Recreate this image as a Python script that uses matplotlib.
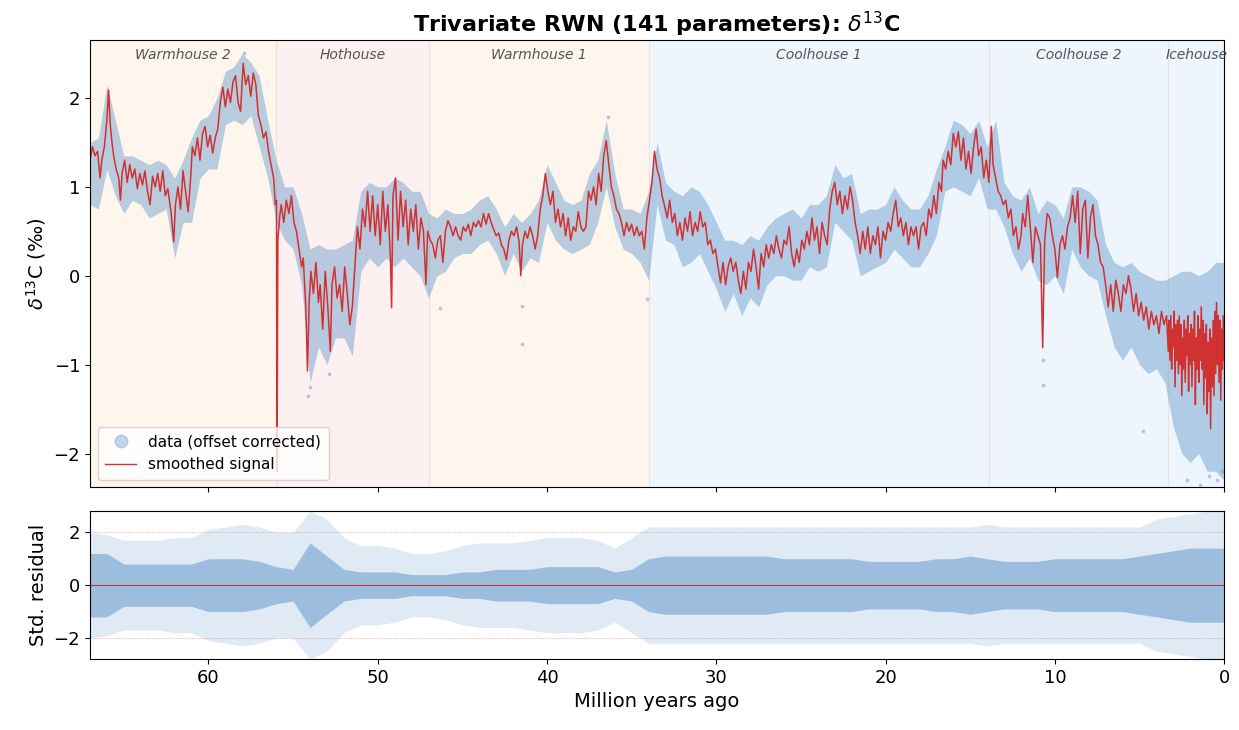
import numpy as np
import matplotlib
matplotlib.use("Agg")
import matplotlib.pyplot as plt
from matplotlib.lines import Line2D

# smoothed d13C signal (age in Myr, value in permil)
sig_age = [67.0, 66.85, 66.7, 66.55, 66.4, 66.3, 66.15, 66.0, 65.9, 65.8, 65.7, 65.6, 65.45, 65.3, 65.2, 65.1,
           64.95, 64.8, 64.65, 64.5, 64.35, 64.2, 64.05, 63.9, 63.75, 63.6, 63.45, 63.3, 63.15, 63.0, 62.85,
           62.7, 62.55, 62.4, 62.2, 62.05, 61.95, 61.8, 61.65, 61.5, 61.35, 61.2, 61.05, 60.95, 60.8, 60.65,
           60.5, 60.35, 60.2, 60.05, 59.9, 59.75, 59.6, 59.45, 59.3, 59.15, 59.0, 58.85, 58.7, 58.55, 58.4,
           58.25, 58.1, 57.95, 57.8, 57.65, 57.5, 57.35, 57.2, 57.05, 56.9, 56.75, 56.6, 56.45, 56.3, 56.15,
           56.05, 55.98, 55.95, 55.9, 55.8, 55.7, 55.55, 55.4, 55.25, 55.1, 54.95, 54.8, 54.65, 54.5, 54.4,
           54.25, 54.15, 54.05, 53.95, 53.8, 53.65, 53.5, 53.4, 53.25, 53.1, 52.95, 52.8, 52.7, 52.55, 52.4,
           52.25, 52.1, 51.95, 51.8, 51.65, 51.5, 51.35, 51.2, 51.05, 50.9, 50.75, 50.6, 50.45, 50.3, 50.15,
           50.0, 49.85, 49.7, 49.55, 49.4, 49.25, 49.18, 49.1, 48.95, 48.8, 48.65, 48.5, 48.35, 48.2, 48.05,
           47.9, 47.75, 47.6, 47.45, 47.3, 47.15, 47.05, 46.9, 46.75, 46.6, 46.45, 46.3, 46.15, 46.0, 45.85,
           45.7, 45.55, 45.4, 45.25, 45.1, 44.95, 44.8, 44.65, 44.5, 44.35, 44.2, 44.05, 43.9, 43.75, 43.6,
           43.45, 43.3, 43.15, 43.0, 42.85, 42.7, 42.55, 42.4, 42.25, 42.1, 41.95, 41.8, 41.65, 41.55, 41.45,
           41.3, 41.15, 41.0, 40.85, 40.7, 40.55, 40.4, 40.25, 40.1, 39.95, 39.8, 39.65, 39.5, 39.35, 39.2,
           39.05, 38.9, 38.75, 38.6, 38.45, 38.3, 38.15, 38.0, 37.85, 37.7, 37.55, 37.4, 37.25, 37.1, 36.95,
           36.8, 36.65, 36.5, 36.35, 36.2, 36.05, 35.9, 35.75, 35.6, 35.45, 35.3, 35.15, 35.0, 34.85, 34.7,
           34.55, 34.4, 34.25, 34.1, 33.95, 33.8, 33.65, 33.5, 33.35, 33.2, 33.05, 32.9, 32.75, 32.6, 32.45,
           32.3, 32.15, 32.0, 31.85, 31.7, 31.55, 31.4, 31.25, 31.1, 30.95, 30.8, 30.65, 30.5, 30.35, 30.2,
           30.05, 29.9, 29.75, 29.6, 29.45, 29.3, 29.15, 29.0, 28.85, 28.7, 28.55, 28.4, 28.25, 28.1, 27.95,
           27.8, 27.65, 27.5, 27.35, 27.2, 27.05, 26.9, 26.75, 26.6, 26.45, 26.3, 26.15, 26.0, 25.85, 25.7,
           25.55, 25.4, 25.25, 25.1, 24.95, 24.8, 24.65, 24.5, 24.35, 24.2, 24.05, 23.9, 23.75, 23.6, 23.45,
           23.3, 23.15, 23.0, 22.85, 22.7, 22.55, 22.4, 22.25, 22.1, 21.95, 21.8, 21.65, 21.5, 21.35, 21.2,
           21.05, 20.9, 20.75, 20.6, 20.45, 20.3, 20.15, 20.0, 19.85, 19.7, 19.55, 19.4, 19.25, 19.1, 18.95,
           18.8, 18.65, 18.5, 18.35, 18.2, 18.05, 17.9, 17.75, 17.6, 17.45, 17.3, 17.15, 17.0, 16.85, 16.7,
           16.6, 16.45, 16.3, 16.15, 16.0, 15.85, 15.7, 15.55, 15.4, 15.25, 15.1, 14.95, 14.8, 14.65, 14.5,
           14.35, 14.2, 14.05, 13.9, 13.75, 13.65, 13.5, 13.35, 13.2, 13.05, 12.9, 12.75, 12.6, 12.45, 12.3,
           12.15, 12.0, 11.9, 11.75, 11.6, 11.45, 11.3, 11.15, 11.0, 10.85, 10.72, 10.6, 10.45, 10.3, 10.15,
           10.0, 9.85, 9.7, 9.55, 9.4, 9.25, 9.1, 8.95, 8.8, 8.65, 8.5, 8.35, 8.2, 8.05, 7.9,
           7.75, 7.6, 7.45, 7.3, 7.15, 7.0, 6.85, 6.7, 6.55, 6.4, 6.25, 6.1, 5.95, 5.8, 5.65,
           5.5, 5.35, 5.2, 5.05, 4.9, 4.75, 4.6, 4.45, 4.3, 4.15, 4.0, 3.85, 3.7, 3.55, 3.4]
sig_val = [1.30, 1.45, 1.35, 1.40, 1.10, 1.30, 1.45, 1.75, 2.09, 1.70, 1.50, 1.35, 1.20, 1.10, 0.85, 1.15,
           1.30, 1.05, 1.25, 1.10, 1.20, 0.98, 1.15, 1.02, 1.18, 0.95, 0.80, 1.12, 1.00, 1.15, 0.95,
           1.18, 0.90, 0.98, 0.70, 0.38, 0.80, 1.00, 0.75, 1.18, 0.95, 0.72, 1.10, 1.45, 1.35, 1.55,
           1.30, 1.60, 1.68, 1.45, 1.58, 1.38, 1.55, 1.65, 1.95, 2.12, 1.90, 2.10, 1.95, 2.18, 2.25,
           1.95, 1.85, 2.39, 2.15, 2.25, 2.02, 2.28, 2.15, 1.80, 1.70, 1.55, 1.62, 1.40, 1.25, 1.10,
           0.80, 0.85, -2.20, 0.40, 0.65, 0.80, 0.60, 0.85, 0.70, 0.90, 0.60, 0.50, 0.30, 0.10, 0.20,
           -0.35, -1.07, -0.30, 0.05, -0.20, 0.15, -0.30, -0.10, -0.60, 0.05, -0.35, -0.85, -0.10, 0.10, -0.25,
           -0.10, -0.40, 0.10, -0.20, -0.55, -0.35, 0.10, 0.55, 0.30, 0.75, 0.55, 0.95, 0.50, 0.90, 0.45,
           0.80, 0.35, 0.95, 0.50, 0.80, 0.20, -0.36, 0.90, 1.10, 0.40, 0.95, 0.55, 0.85, 0.35, 0.75,
           0.50, 0.80, 0.30, 0.65, 0.50, -0.10, 0.50, 0.40, 0.35, 0.20, 0.40, 0.45, 0.15, 0.50, 0.62,
           0.55, 0.45, 0.55, 0.45, 0.40, 0.55, 0.50, 0.58, 0.45, 0.60, 0.55, 0.62, 0.55, 0.70, 0.58,
           0.70, 0.60, 0.52, 0.45, 0.48, 0.35, 0.30, 0.18, 0.40, 0.50, 0.45, 0.55, 0.38, 0.00, 0.35,
           0.50, 0.42, 0.55, 0.45, 0.30, 0.45, 0.75, 0.90, 1.15, 0.95, 0.80, 0.95, 0.60, 0.75, 0.55,
           0.70, 0.45, 0.65, 0.40, 0.55, 0.50, 0.72, 0.55, 0.50, 0.55, 0.95, 0.85, 1.00, 0.80, 1.15,
           0.95, 1.35, 1.52, 1.25, 1.00, 0.90, 0.75, 0.70, 0.60, 0.45, 0.60, 0.50, 0.58, 0.45, 0.55,
           0.45, 0.50, 0.30, 0.65, 0.85, 1.05, 1.40, 1.20, 1.10, 0.90, 0.78, 0.65, 0.85, 0.60, 0.70,
           0.45, 0.60, 0.40, 0.65, 0.50, 0.72, 0.45, 0.60, 0.50, 0.72, 0.55, 0.60, 0.35, 0.40, 0.25,
           0.30, 0.10, -0.08, 0.15, -0.10, 0.10, 0.20, 0.05, 0.15, -0.05, -0.20, 0.05, -0.15, 0.15, 0.05,
           0.30, 0.10, -0.15, 0.25, 0.10, 0.35, 0.20, 0.35, 0.25, 0.45, 0.30, 0.20, 0.40, 0.35, 0.55,
           0.25, 0.10, 0.30, 0.15, 0.40, 0.30, 0.50, 0.35, 0.65, 0.40, 0.55, 0.25, 0.60, 0.45, 0.35,
           0.75, 0.95, 1.05, 0.80, 0.95, 0.70, 0.90, 0.75, 1.00, 0.85, 0.60, 0.45, 0.25, 0.50, 0.30,
           0.55, 0.25, 0.45, 0.35, 0.55, 0.20, 0.50, 0.40, 0.60, 0.50, 0.70, 0.85, 0.55, 0.65, 0.45,
           0.60, 0.35, 0.55, 0.45, 0.55, 0.30, 0.55, 0.60, 0.45, 0.75, 0.65, 0.90, 0.70, 1.05, 0.95,
           1.30, 1.20, 1.40, 1.25, 1.60, 1.45, 1.62, 1.30, 1.55, 1.20, 1.40, 1.15, 1.45, 1.65, 1.35,
           1.45, 1.10, 1.30, 1.05, 1.68, 1.25, 1.10, 0.95, 0.90, 0.80, 0.85, 0.65, 0.75, 0.45, 0.55,
           0.30, 0.45, 0.70, 0.55, 0.90, 0.55, 0.15, 0.55, 0.45, 0.35, -0.81, 0.40, 0.70, 0.65, 0.45,
           0.30, -0.02, 0.35, 0.45, 0.30, 0.55, 0.65, 0.90, 0.60, 0.95, 0.25, 0.75, 0.85, 0.20, 0.65,
           0.80, 0.45, 0.35, 0.15, 0.10, -0.10, -0.35, -0.10, -0.40, -0.05, -0.20, -0.40, -0.10, -0.20, 0.00,
           -0.15, -0.40, -0.20, -0.45, -0.30, -0.50, -0.35, -0.60, -0.40, -0.55, -0.45, -0.65, -0.40, -0.55, -0.45]

# the Icehouse stretch is much noisier, read more finely
ice_age = [3.30, 3.25, 3.20, 3.15, 3.10, 3.05, 3.00, 2.95, 2.90, 2.85, 2.80, 2.75, 2.70, 2.65, 2.60, 2.55,
           2.50, 2.45, 2.40, 2.35, 2.30, 2.25, 2.20, 2.15, 2.10, 2.05, 2.00, 1.95, 1.90, 1.85, 1.80, 1.75,
           1.70, 1.65, 1.60, 1.55, 1.50, 1.45, 1.40, 1.35, 1.30, 1.25, 1.20, 1.15, 1.10, 1.05, 1.00, 0.95,
           0.90, 0.85, 0.80, 0.75, 0.70, 0.65, 0.60, 0.55, 0.50, 0.45, 0.40, 0.35, 0.30, 0.25, 0.20, 0.15,
           0.10, 0.05, 0.00]
ice_val = [-0.85, -0.50, -0.95, -0.45, -1.05, -0.60, -0.80, -0.40, -1.25, -0.55, -0.95, -0.50, -1.10, -0.45,
           -1.00, -0.55, -1.35, -0.70, -1.05, -0.50, -1.20, -0.60, -0.90, -0.45, -1.30, -0.65, -1.00, -0.55,
           -1.25, -0.60, -0.95, -0.40, -1.45, -0.70, -1.05, -0.45, -1.20, -0.60, -0.95, -0.35, -1.05, -0.50,
           -1.45, -0.65, -1.15, -0.55, -1.55, -0.75, -1.30, -0.60, -1.72, -0.70, -1.25, -0.50, -1.35, -0.40,
           -1.10, -0.30, -1.00, -0.45, -1.20, -0.50, -1.40, -0.60, -1.05, -0.45, -0.95]

# spread of the data cloud, every 0.5 Myr from 67 to 0
cloud_hi = [1.5, 1.55, 2.15, 1.75, 1.35, 1.35, 1.3, 1.25, 1.3, 1.25, 1.1, 1.3, 1.55, 1.75, 1.8, 2.0, 2.3, 2.35,
            2.5, 2.4, 2.25, 1.75, 1.3, 1.0, 1.0, 0.7, 0.3, 0.35, 0.3, 0.3, 0.35, 0.4, 0.95, 1.05, 1.0, 1.0,
            1.1, 1.05, 0.95, 0.95, 0.7, 0.65, 0.75, 0.7, 0.7, 0.75, 0.85, 0.9, 0.75, 0.55, 0.7, 0.6, 0.7, 0.85,
            1.25, 1.05, 0.85, 0.8, 0.85, 1.15, 1.3, 1.75, 1.15, 0.75, 0.75, 0.7, 0.95, 1.5, 1.05, 0.95, 0.9, 1.0,
            0.95, 0.8, 0.6, 0.4, 0.4, 0.35, 0.45, 0.4, 0.55, 0.65, 0.7, 0.75, 0.65, 0.8, 0.8, 0.9, 1.25, 1.1,
            1.15, 0.7, 0.75, 0.75, 0.8, 1.0, 0.85, 0.75, 0.75, 0.9, 1.2, 1.45, 1.75, 1.7, 1.6, 1.75, 1.45, 1.75,
            1.05, 0.9, 0.85, 1.0, 0.7, 0.85, 0.8, 0.65, 1.0, 1.0, 0.95, 0.85, 0.35, 0.15, 0.1, 0.15, 0.05, 0.0,
            -0.05, -0.05, 0.0, 0.05, 0.05, 0.0, 0.05, 0.15, 0.15]
cloud_lo = [0.8, 0.75, 1.2, 0.9, 0.7, 0.85, 0.8, 0.65, 0.7, 0.75, 0.2, 0.6, 0.6, 1.1, 1.2, 1.2, 1.7, 1.75,
            1.7, 1.8, 1.45, 1.1, 0.6, 0.4, 0.3, -0.1, -1.2, -0.8, -1.0, -0.7, -0.7, -0.9, 0.05, 0.2, 0.1, 0.2,
            0.1, 0.2, 0.1, 0.0, -0.25, 0.0, 0.05, 0.2, 0.25, 0.25, 0.35, 0.4, 0.25, 0.0, 0.25, 0.05, 0.2, 0.15,
            0.6, 0.4, 0.3, 0.25, 0.3, 0.35, 0.6, 1.0, 0.55, 0.3, 0.25, 0.15, -0.05, 0.8, 0.4, 0.35, 0.1, 0.15,
            0.25, 0.05, -0.15, -0.4, -0.2, -0.45, -0.25, -0.35, -0.1, 0.0, 0.0, -0.05, -0.05, 0.1, 0.05, 0.1, 0.6, 0.5,
            0.4, 0.0, 0.05, 0.1, 0.15, 0.3, 0.2, 0.1, 0.1, 0.25, 0.45, 0.95, 1.0, 0.95, 0.9, 1.1, 0.75, 0.75,
            0.55, 0.25, 0.05, 0.2, -0.05, -0.1, 0.0, -0.2, 0.3, 0.1, 0.0, -0.05, -0.45, -0.8, -0.95, -0.8, -1.0, -1.1,
            -1.05, -1.2, -1.7, -2.0, -2.1, -2.0, -2.2, -2.2, -2.3]

# isolated data points well away from the cloud
out_age = [54.1, 54.0, 52.9, 46.3, 41.5, 41.5, 34.1, 36.4, 57.9, 10.7, 10.7, 4.8, 2.2, 1.4, 0.9, 0.4, 0.1]
out_val = [-1.35, -1.25, -1.1, -0.36, -0.77, -0.34, -0.26, 1.78, 2.5, -1.23, -0.95, -1.75, -2.3, -2.35, -2.25, -2.3, -2.2]

# standardized residual spread, every 1 Myr from 67 to 0 (dense core, outer scatter)
res_core = [1.2, 1.2, 0.8, 0.8, 0.8, 0.8, 0.8, 1.0, 1.0, 1.0, 0.9, 0.7, 0.6, 1.6, 1.1, 0.6, 0.5, 0.5,
            0.5, 0.4, 0.4, 0.4, 0.5, 0.5, 0.6, 0.6, 0.6, 0.7, 0.7, 0.7, 0.7, 0.5, 0.6, 1.0, 1.1, 1.1,
            1.1, 1.1, 1.1, 1.1, 1.1, 1.0, 1.0, 1.0, 1.0, 1.0, 0.9, 0.9, 0.9, 0.9, 1.0, 1.0, 1.1, 1.0,
            0.9, 0.9, 0.9, 1.0, 1.0, 1.0, 1.0, 1.0, 1.1, 1.2, 1.3, 1.4, 1.4, 1.4]
res_outer = [2.0, 1.9, 1.7, 1.7, 1.7, 1.8, 1.8, 2.1, 2.2, 2.3, 2.2, 2.0, 2.0, 2.8, 2.5, 1.8, 1.5, 1.5,
             1.4, 1.2, 1.2, 1.3, 1.5, 1.6, 1.6, 1.6, 1.7, 1.8, 1.8, 1.8, 1.7, 1.4, 1.8, 2.2, 2.2, 2.2,
             2.2, 2.2, 2.2, 2.2, 2.2, 2.2, 2.2, 2.2, 2.2, 2.2, 2.2, 2.2, 2.2, 2.2, 2.2, 2.2, 2.2, 2.3,
             2.2, 2.2, 2.2, 2.2, 2.2, 2.2, 2.2, 2.2, 2.2, 2.5, 2.6, 2.7, 2.8, 2.8]

# climate states (start, end, name, colour)
states = [(67.0, 56.0, "Warmhouse 2", "#fef6ec"),
          (56.0, 47.0, "Hothouse", "#fcf0f0"),
          (47.0, 34.0, "Warmhouse 1", "#fef6ec"),
          (34.0, 13.9, "Coolhouse 1", "#eef5fc"),
          (13.9, 3.3, "Coolhouse 2", "#eef5fc"),
          (3.3, 0.0, "Icehouse", "#eef5fc")]

blue = "#6699cc"
red = "#d03232"

cloud_age = np.linspace(67, 0, len(cloud_hi))
res_age = np.linspace(67, 0, len(res_core))
res_core = np.array(res_core)
res_outer = np.array(res_outer)

fig = plt.figure(figsize=(12.39, 7.3), dpi=100)
gs = fig.add_gridspec(2, 1, height_ratios=[447, 148], left=0.0726, right=0.988,
                      top=0.945, bottom=0.097, hspace=0.08)
ax = fig.add_subplot(gs[0])
axr = fig.add_subplot(gs[1], sharex=ax)

for start, end, name, col in states:
    ax.axvspan(end, start, color=col, lw=0, zorder=0)
    ax.axvline(end, color="#e6e2dc", lw=0.8, zorder=0.5)
    ax.text((start + end) / 2, 0.966, name, transform=ax.get_xaxis_transform(),
            ha="center", va="center", fontsize=10, style="italic", color="#555555")

ax.fill_between(cloud_age, cloud_lo, cloud_hi, color=blue, alpha=0.45, lw=0, zorder=1)
ax.scatter(out_age, out_val, s=7, color=blue, alpha=0.5, lw=0, zorder=1)
ax.plot(sig_age + ice_age, sig_val + ice_val, color=red, lw=1.1, zorder=2)

ax.set_xlim(67, 0)
ax.set_ylim(-2.38, 2.65)
ax.set_yticks([-2, -1, 0, 1, 2])
ax.set_ylabel(r"$\delta^{13}$C (‰)", fontsize=14)
ax.tick_params(labelsize=13, labelbottom=False)
ax.set_title(r"Trivariate RWN (141 parameters): $\delta^{13}$C", fontsize=16, fontweight="bold")

handles = [Line2D([], [], marker="o", ls="none", ms=9, color=blue, alpha=0.4),
           Line2D([], [], color=red, lw=1.0)]
ax.legend(handles, ["data (offset corrected)", "smoothed signal"], loc="lower left",
          fontsize=11, borderpad=0.5)

axr.fill_between(res_age, -res_outer, res_outer, color=blue, alpha=0.2, lw=0)
axr.fill_between(res_age, -res_core, res_core, color=blue, alpha=0.55, lw=0)
axr.axhline(0, color=red, lw=0.8)
axr.axhline(2, color=red, lw=0.6, ls=":", alpha=0.5)
axr.axhline(-2, color=red, lw=0.6, ls=":", alpha=0.5)
axr.set_ylim(-2.8, 2.8)
axr.set_yticks([-2, 0, 2])
axr.set_xticks([60, 50, 40, 30, 20, 10, 0])
axr.set_ylabel("Std. residual", fontsize=14)
axr.set_xlabel("Million years ago", fontsize=14)
axr.tick_params(labelsize=13)

plt.savefig("out.png", dpi=100)
